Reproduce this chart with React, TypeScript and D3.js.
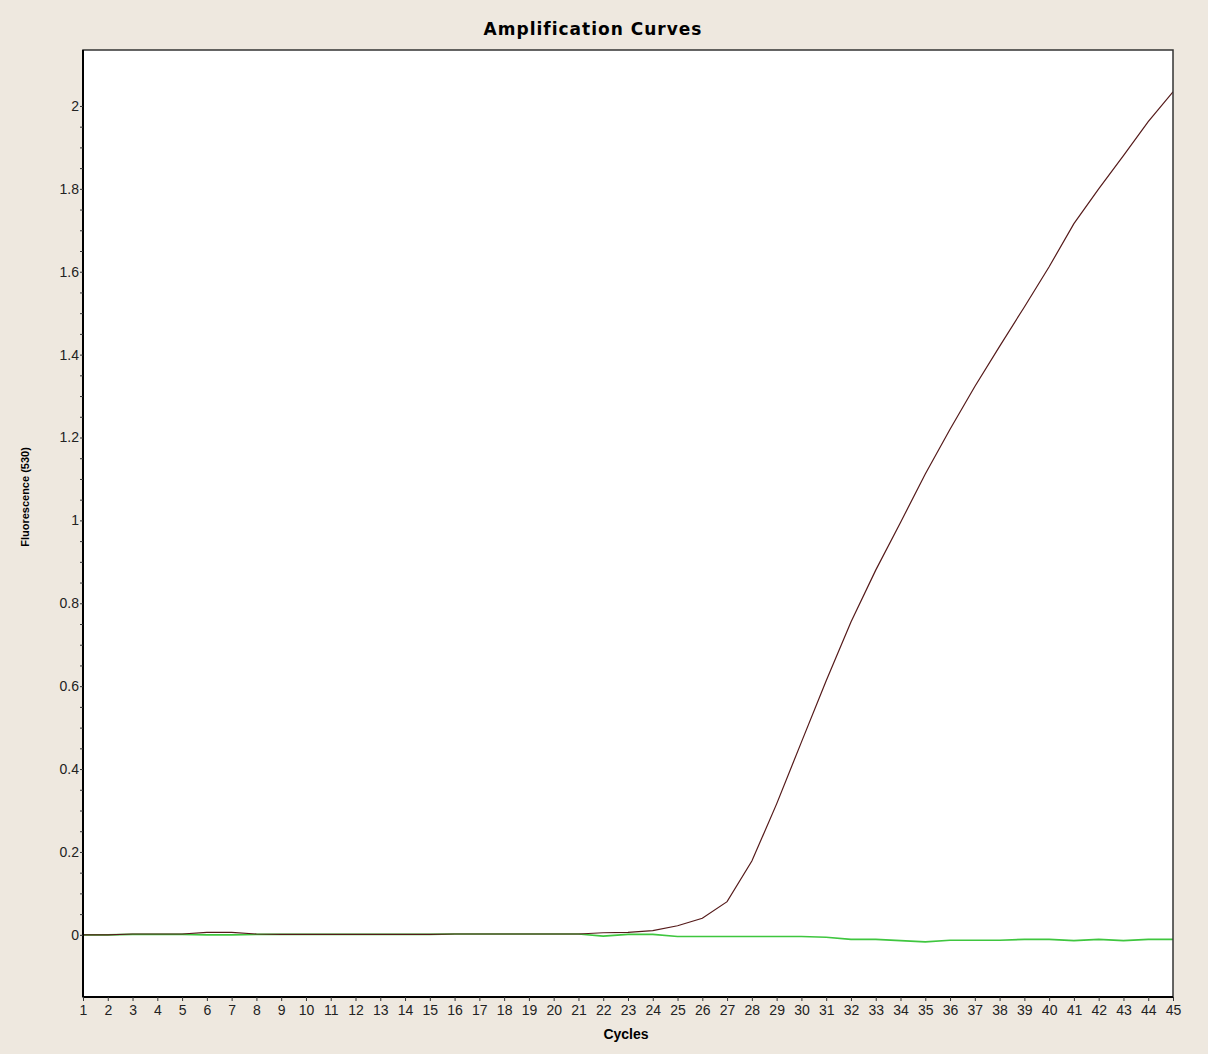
import React, { Component } from 'react';
import * as d3 from 'd3';

// Cycle numbers along the x axis
const cycles = [1, 2, 3, 4, 5, 6, 7, 8, 9, 10, 11, 12, 13, 14, 15, 16, 17, 18, 19, 20, 21, 22, 23,
  24, 25, 26, 27, 28, 29, 30, 31, 32, 33, 34, 35, 36, 37, 38, 39, 40, 41, 42, 43, 44, 45];

// Sample curve (dark red) fluorescence per cycle
const sampleFluor = [0, 0, 0.002, 0.002, 0.002, 0.006, 0.006, 0.002, 0.001, 0.001, 0.001, 0.001,
  0.001, 0.001, 0.001, 0.002, 0.002, 0.002, 0.002, 0.002, 0.002, 0.005, 0.006, 0.01, 0.022, 0.04,
  0.08, 0.178, 0.316, 0.465, 0.613, 0.755, 0.88, 0.995, 1.112, 1.22, 1.323, 1.42, 1.515, 1.612,
  1.716, 1.8, 1.88, 1.962, 2.034];

// Negative control (green) fluorescence per cycle
const controlFluor = [0, 0, 0.001, 0.001, 0.001, 0, 0, 0.001, 0.001, 0.001, 0.001, 0.001, 0.001,
  0.001, 0.001, 0.002, 0.002, 0.002, 0.002, 0.002, 0.002, -0.003, 0.001, 0.001, -0.004, -0.004,
  -0.004, -0.004, -0.004, -0.004, -0.006, -0.011, -0.011, -0.014, -0.017, -0.013, -0.013, -0.013,
  -0.011, -0.011, -0.014, -0.011, -0.014, -0.011, -0.011];

const yMajorTicks = [0, 0.2, 0.4, 0.6, 0.8, 1, 1.2, 1.4, 1.6, 1.8, 2];
const yTickLabels = ['0', '0.2', '0.4', '0.6', '0.8', '1', '1.2', '1.4', '1.6', '1.8', '2'];

class AmplificationChart extends Component<any> {
  node: SVGSVGElement | null = null;

  componentDidMount() {
    this.createGraph()
  }

  componentDidUpdate() {
    this.createGraph()
  }

  createGraph = () => {
    const svg = d3.select(this.node);
    svg.selectAll('*').remove();

    const width = 1208;
    const height = 1054;
    const left = 83, top = 50, right = 1173, bottom = 997;

    const font = '"Liberation Sans", Arial, sans-serif';

    // background
    svg.append('rect')
      .attr('width', width)
      .attr('height', height)
      .attr('fill', '#eee8df')

    var x = d3.scaleLinear()
      .domain([1, 45])
      .range([left, right])

    var y = d3.scaleLinear()
      .domain([-0.15, 2.135])
      .range([bottom, top])

    // plot area
    svg.append('rect')
      .attr('x', left)
      .attr('y', top)
      .attr('width', right - left)
      .attr('height', bottom - top)
      .attr('fill', '#ffffff')

    svg.append('clipPath')
      .attr('id', 'plotClip')
      .append('rect')
      .attr('x', left)
      .attr('y', top)
      .attr('width', right - left)
      .attr('height', bottom - top)

    // Title
    svg.append('text')
      .attr('x', 593)
      .attr('y', 35)
      .attr('text-anchor', 'middle')
      .attr('font-family', '"DejaVu Sans", sans-serif')
      .attr('font-weight', 'bold')
      .attr('font-size', 17)
      .attr('letter-spacing', 1)
      .attr('fill', '#000')
      .text('Amplification Curves')

    // Curves
    const line = d3.line<number>()
      .x((d, i) => x(cycles[i]))
      .y(d => y(d))

    const curves = svg.append('g').attr('clip-path', 'url(#plotClip)');

    curves.append('path')
      .datum(controlFluor)
      .attr('d', line)
      .attr('fill', 'none')
      .attr('stroke', '#3fc63f')
      .attr('stroke-width', 1.6)

    curves.append('path')
      .datum(sampleFluor)
      .attr('d', line)
      .attr('fill', 'none')
      .attr('stroke', '#551a1a')
      .attr('stroke-width', 1.2)

    // Frame
    svg.append('rect')
      .attr('x', left)
      .attr('y', top)
      .attr('width', right - left)
      .attr('height', bottom - top)
      .attr('fill', 'none')
      .attr('stroke', '#333')
      .attr('stroke-width', 1.5)

    // Y axis (minor ticks every 0.05, labels every 0.2)
    const yAxis = d3.axisLeft(y)
      .tickValues(d3.range(0, 2.0001, 0.05))
      .tickSize(3)
      .tickFormat((d: any) => {
        const idx = yMajorTicks.findIndex(t => Math.abs(t - d) < 1e-6);
        return idx >= 0 ? yTickLabels[idx] : '';
      })

    const gy = svg.append('g')
      .attr('transform', `translate(${left},0)`)
      .call(yAxis)
    gy.select('.domain').attr('stroke', '#000').attr('stroke-width', 2)
      .attr('d', `M0,${bottom}V${top}`)
    gy.selectAll('.tick line').attr('stroke', '#333')
    gy.selectAll('.tick text')
      .attr('x', -4)
      .attr('font-family', font)
      .attr('font-size', 14)
      .attr('fill', '#222')

    // X axis
    const xAxis = d3.axisBottom(x)
      .tickValues(cycles)
      .tickSize(4)
      .tickFormat(d3.format('d'))

    const gx = svg.append('g')
      .attr('transform', `translate(0,${bottom})`)
      .call(xAxis)
    gx.select('.domain').attr('stroke', '#000').attr('stroke-width', 2)
      .attr('d', `M${left},0H${right}`)
    gx.selectAll('.tick line').attr('stroke', '#333')
    gx.selectAll('.tick text')
      .attr('y', 8)
      .attr('font-family', font)
      .attr('font-size', 14)
      .attr('fill', '#222')

    // Axis titles
    svg.append('text')
      .attr('x', 626)
      .attr('y', 1039)
      .attr('text-anchor', 'middle')
      .attr('font-family', font)
      .attr('font-weight', 'bold')
      .attr('font-size', 14)
      .attr('fill', '#000')
      .text('Cycles')

    svg.append('text')
      .attr('transform', `translate(29,497) rotate(-90)`)
      .attr('text-anchor', 'middle')
      .attr('font-family', font)
      .attr('font-weight', 'bold')
      .attr('font-size', 11)
      .attr('fill', '#000')
      .text('Fluorescence (530)')
  }

  render() {
    return (
      <div style={{ position: 'absolute', left: 0, top: 0 }}>
        <svg ref={node => { this.node = node }} width={1208} height={1054} style={{ display: 'block' }}>
        </svg>
      </div>
    );
  }
}

export default function App() {
  return <AmplificationChart />;
}
